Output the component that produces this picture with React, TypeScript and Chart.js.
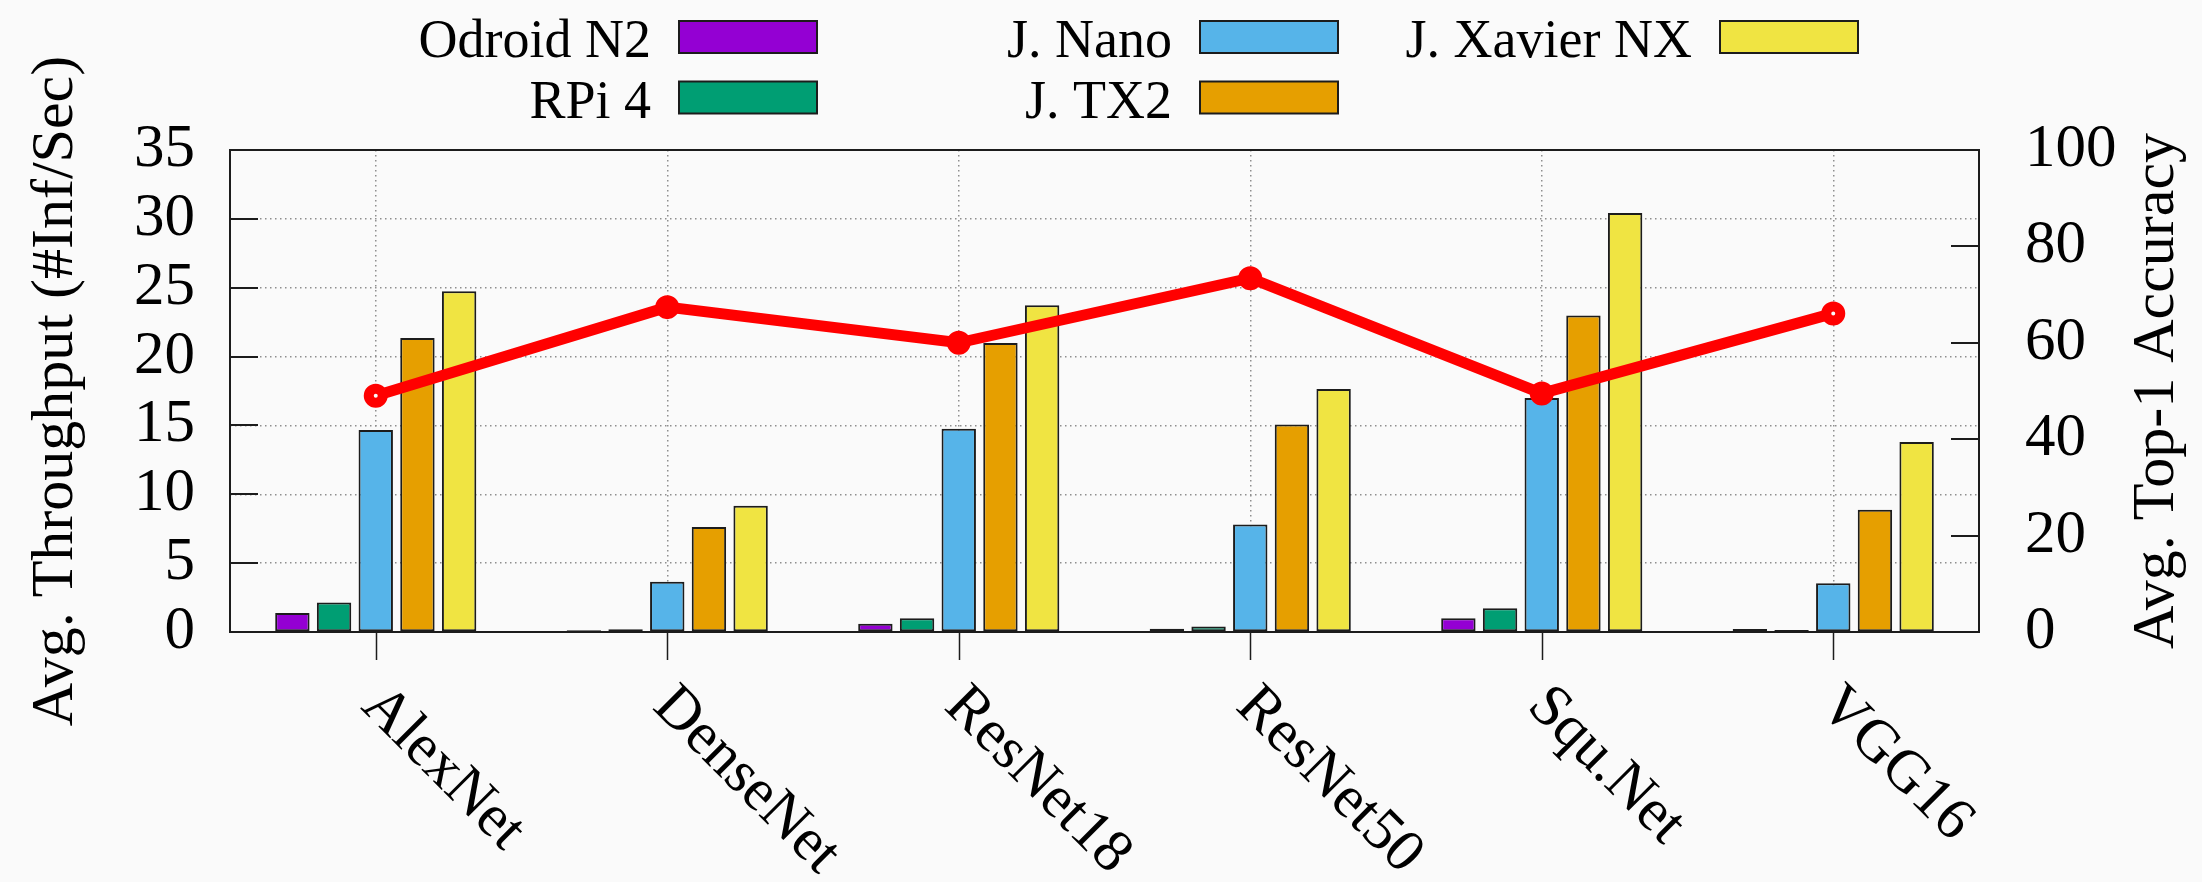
import React, { useEffect, useRef } from "react";
import { Chart, registerables } from "chart.js";

Chart.register(...registerables);

// Benchmarked networks (x categories)
const models = ["AlexNet", "DenseNet", "ResNet18", "ResNet50", "Squ.Net", "VGG16"];

// Average throughput per device, in inferences per second
const odroidN2 = [1.38, 0.13, 0.6, 0.23, 1.0, 0.22];
const rpi4 = [2.15, 0.2, 1.0, 0.4, 1.73, 0.15];
const jetsonNano = [14.66, 3.64, 14.76, 7.81, 16.99, 3.54];
const jetsonTX2 = [21.35, 7.62, 20.99, 15.07, 22.99, 8.87];
const xavierNX = [24.74, 9.16, 23.72, 17.64, 30.43, 13.79];

// Average top-1 accuracy of each network (right axis)
const top1Accuracy = [49.0, 67.4, 60.0, 73.4, 49.5, 66.1];

const deviceNames = ["Odroid N2", "RPi 4", "J. Nano", "J. TX2", "J. Xavier NX"];
const deviceSeries = [odroidN2, rpi4, jetsonNano, jetsonTX2, xavierNX];
const deviceColors = ["#9400d3", "#009e73", "#56b4e9", "#e69f00", "#f0e442"];

const throughputTitle = "Avg. Throughput (#Inf/Sec)";
const accuracyTitle = "Avg. Top-1 Accuracy";

const FONT = "'Liberation Serif', 'Times New Roman', Times, serif";
const BG = "#fafafa";
const INK = "#1c1c1c";
const GRID = "#8e8e8e";

// Frame, inner/outer tick marks, rotated category labels, axis titles and legend
const decorations = {
  id: "decorations",
  beforeDraw(chart: any) {
    const { ctx, width, height } = chart;
    ctx.save();
    ctx.fillStyle = BG;
    ctx.fillRect(0, 0, width, height);
    ctx.restore();
  },
  afterDraw(chart: any) {
    const { ctx, chartArea: a, scales } = chart;
    const yS = scales.y;
    const accS = scales.acc;
    const xS = scales.x;
    ctx.save();

    // plot frame
    ctx.strokeStyle = INK;
    ctx.lineWidth = 2;
    ctx.strokeRect(a.left, a.top, a.right - a.left, a.bottom - a.top);

    // inner tick marks on both value axes
    const tick = 28;
    ctx.beginPath();
    yS.ticks.forEach((t: any) => {
      if (t.value <= yS.min || t.value >= yS.max) return;
      const py = Math.round(yS.getPixelForValue(t.value));
      ctx.moveTo(a.left, py);
      ctx.lineTo(a.left + tick, py);
    });
    accS.ticks.forEach((t: any) => {
      if (t.value <= accS.min || t.value >= accS.max) return;
      const py = Math.round(accS.getPixelForValue(t.value));
      ctx.moveTo(a.right, py);
      ctx.lineTo(a.right - tick, py);
    });
    ctx.stroke();

    // outer tick marks under each category
    ctx.lineWidth = 1.5;
    ctx.beginPath();
    models.forEach((_, i) => {
      const px = Math.round(xS.getPixelForValue(i)) + 0.5;
      ctx.moveTo(px, a.bottom);
      ctx.lineTo(px, a.bottom + tick);
    });
    ctx.stroke();

    // rotated category labels
    ctx.fillStyle = "#000";
    ctx.font = `60px ${FONT}`;
    ctx.textAlign = "left";
    ctx.textBaseline = "alphabetic";
    models.forEach((name, i) => {
      const px = xS.getPixelForValue(i);
      ctx.save();
      ctx.translate(px - 16, a.bottom + 76);
      ctx.rotate(Math.PI / 4);
      ctx.fillText(name, 0, 0);
      ctx.restore();
    });

    // axis titles, both reading bottom to top
    const midY = (a.top + a.bottom) / 2;
    ctx.textAlign = "center";
    ctx.save();
    ctx.translate(72, midY);
    ctx.rotate(-Math.PI / 2);
    ctx.fillText(throughputTitle, 0, 0);
    ctx.restore();
    ctx.save();
    ctx.translate(a.right + 194, midY);
    ctx.rotate(-Math.PI / 2);
    ctx.fillText(accuracyTitle, 0, 0);
    ctx.restore();

    // legend: two rows, filled column by column, label to the left of its swatch
    const colLeft = [679, 1200, 1720];
    const rowMid = [37, 97.5];
    const boxW = 138;
    const boxH = 32;
    ctx.font = `54px ${FONT}`;
    ctx.textAlign = "right";
    const bars = chart.data.datasets.filter((d: any) => d.type !== "line");
    bars.forEach((ds: any, i: number) => {
      const bx = colLeft[Math.floor(i / 2)];
      const cy = rowMid[i % 2];
      ctx.fillStyle = ds.backgroundColor;
      ctx.fillRect(bx, cy - boxH / 2, boxW, boxH);
      ctx.strokeStyle = INK;
      ctx.lineWidth = 2;
      ctx.strokeRect(bx, cy - boxH / 2, boxW, boxH);
      ctx.fillStyle = "#000";
      ctx.fillText(ds.label, bx - 28, cy + 20);
    });

    ctx.restore();
  },
};

export default function App() {
  const canvasRef = useRef<HTMLCanvasElement | null>(null);

  useEffect(() => {
    const canvas = canvasRef.current;
    if (!canvas) return;
    const last = top1Accuracy.length - 1;
    let chart: Chart | null = null;
    let cancelled = false;

    const build = () => {
      if (cancelled) return;
      chart = new Chart(canvas, {
        type: "bar",
        data: {
          labels: models,
          datasets: [
            {
              type: "line",
              label: accuracyTitle,
              data: top1Accuracy,
              yAxisID: "acc",
              borderColor: "#ff0000",
              borderWidth: 11,
              pointRadius: 7,
              pointBorderWidth: 10,
              pointBorderColor: "#ff0000",
              pointBackgroundColor: (c: any) =>
                c.dataIndex === 0 || c.dataIndex === last ? BG : "#ff0000",
              tension: 0,
              order: 0,
            } as any,
            ...deviceNames.map((name, i) => ({
              type: "bar" as const,
              label: name,
              data: deviceSeries[i],
              yAxisID: "y",
              backgroundColor: deviceColors[i],
              borderColor: INK,
              borderWidth: 2,
              borderSkipped: false as const,
              categoryPercentage: 0.715,
              barPercentage: 0.825,
              order: 1,
            })),
          ],
        },
        options: {
          responsive: false,
          animation: false,
          devicePixelRatio: 1,
          layout: { padding: { top: 150, left: 0, right: 0, bottom: 0 } },
          plugins: {
            legend: { display: false },
            tooltip: { enabled: false },
          },
          scales: {
            x: {
              offset: true,
              grid: { offset: false, color: GRID, lineWidth: 1.5, drawTicks: false },
              border: { display: false, dash: [1.5, 3.5] },
              ticks: { display: false },
              afterFit: (s: any) => {
                s.height = 250;
              },
            },
            y: {
              position: "left",
              min: 0,
              max: 35,
              ticks: {
                stepSize: 5,
                autoSkip: false,
                color: "#000",
                padding: 35,
                font: { family: FONT, size: 61, lineHeight: 1 },
              },
              grid: { color: GRID, lineWidth: 1.5, drawTicks: false },
              border: { display: false, dash: [1.5, 3.5] },
              afterFit: (s: any) => {
                s.width = 230;
              },
            },
            acc: {
              position: "right",
              min: 0,
              max: 100,
              ticks: {
                stepSize: 20,
                autoSkip: false,
                color: "#000",
                padding: 46,
                font: { family: FONT, size: 61, lineHeight: 1 },
              },
              grid: { display: false, drawTicks: false },
              border: { display: false },
              afterFit: (s: any) => {
                s.width = 223;
              },
            },
          },
        },
        plugins: [decorations],
      });
    };

    const fonts = (document as any).fonts;
    if (fonts && fonts.load) {
      Promise.all([
        fonts.load("60px 'Liberation Serif'"),
        fonts.load("54px 'Liberation Serif'"),
      ])
        .catch(() => undefined)
        .then(build);
    } else {
      build();
    }

    return () => {
      cancelled = true;
      if (chart) chart.destroy();
    };
  }, []);

  return (
    <div
      style={{
        position: "fixed",
        left: 0,
        top: 0,
        width: 2202,
        height: 882,
        background: BG,
      }}
    >
      <canvas ref={canvasRef} width={2202} height={882} style={{ display: "block", width: 2202, height: 882 }} />
    </div>
  );
}
